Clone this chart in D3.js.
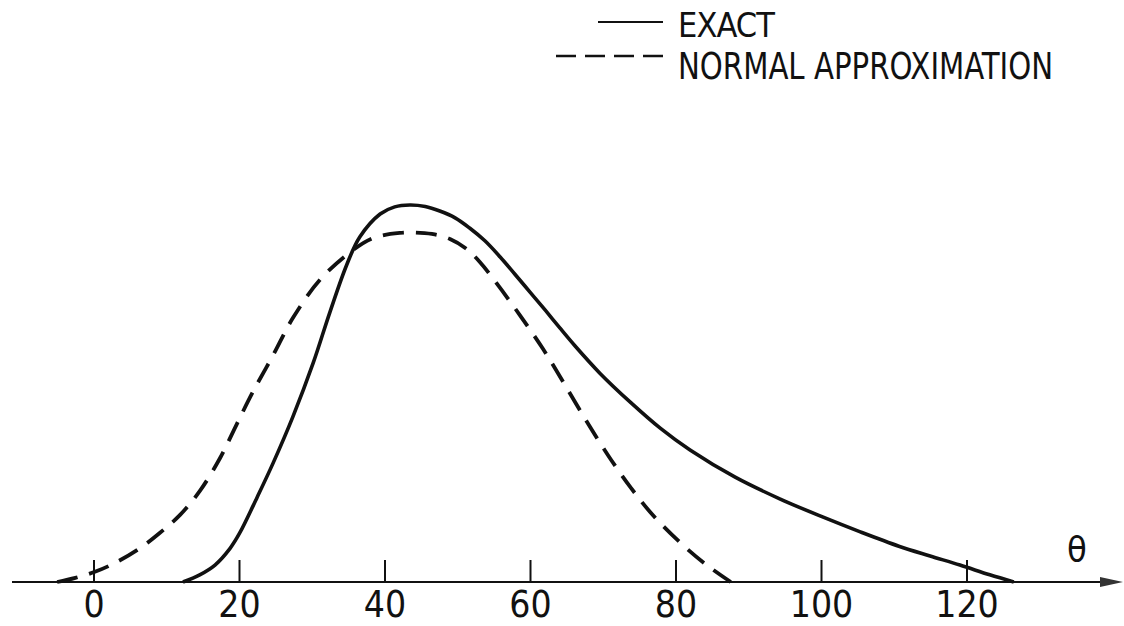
<!DOCTYPE html>
<html>
<head>
<meta charset="utf-8">
<script src="https://cdn.jsdelivr.net/npm/d3@7"></script>
<style>
  body { margin: 0; background: #fff; }
  text { font-family: "Liberation Sans Narrow", "DejaVu Sans Condensed", sans-serif; fill: #111; }
</style>
</head>
<body>
<svg id="app" width="1124" height="626"></svg>
<script>
// theta values and relative density
const exactTheta = [12.3, 14.6, 16.7, 18.8, 20.1, 22.5, 24.7, 27.4, 30.2, 32.5, 34.8, 36.6, 39.4, 41.4, 43.5,
  45.6, 47.6, 49.7, 51.7, 53.8, 55.9, 57.9, 60.0, 62.1, 64.1, 66.2, 69.6, 73.9, 77.9, 82.0, 88.2, 94.4,
  100.3, 105.4, 110.7, 115.0, 119.1, 123.2, 126.5];
const exactDens  = [0, 0.019, 0.045, 0.090, 0.130, 0.225, 0.316, 0.438, 0.581, 0.716, 0.841, 0.915, 0.976, 0.995, 1.0,
  0.996, 0.984, 0.966, 0.939, 0.905, 0.862, 0.817, 0.769, 0.721, 0.674, 0.626, 0.554, 0.475, 0.408, 0.350, 0.278, 0.220,
  0.172, 0.133, 0.095, 0.069, 0.045, 0.019, 0];

const normalTheta = [-5.0, -2.5, 0.2, 2.9, 6.4, 9.1, 11.9, 14.6, 17.4, 19.7, 21.9, 24.7, 27.4, 31.1, 35.3, 38.4, 42.1, 44.9,
  46.9, 49.0, 51.1, 53.1, 55.5, 58.6, 61.8, 64.4, 67.6, 70.7, 73.9, 77.0, 81.3, 84.5, 87.6];
const normalDens  = [0, 0.011, 0.027, 0.050, 0.090, 0.130, 0.178, 0.241, 0.329, 0.419, 0.504, 0.602, 0.700, 0.801, 0.875, 0.912, 0.926, 0.926,
  0.922, 0.910, 0.886, 0.849, 0.790, 0.708, 0.618, 0.536, 0.432, 0.337, 0.249, 0.175, 0.093, 0.042, 0];

const tickValues = [0, 20, 40, 60, 80, 100, 120];
const legendLabels = ["EXACT", "NORMAL APPROXIMATION"];

const svg = d3.select("#app");
const AXIS_Y = 582;

// x: theta, y: density (peak of exact = 1)
const xScale = d3.scaleLinear().domain([0, 120]).range([93.5, 966.5]);
const yScale = d3.scaleLinear().domain([0, 1]).range([AXIS_Y, 205]);

// axis ticks point up, labels below
const axis = d3.axisBottom(xScale)
  .tickValues(tickValues)
  .tickSize(-22)
  .tickPadding(9)
  .tickFormat(d3.format("d"));

const gx = svg.append("g")
  .attr("transform", `translate(0,${AXIS_Y})`)
  .call(axis);
gx.select(".domain").remove();
gx.selectAll(".tick line").attr("stroke", "#111").attr("stroke-width", 2);
gx.selectAll(".tick text")
  .attr("font-size", 37)
  .attr("fill", "#111")
  .style("font-family", '"Liberation Sans Narrow", "DejaVu Sans Condensed", sans-serif');

// axis line with arrow
svg.append("line")
  .attr("x1", 12).attr("x2", 1104)
  .attr("y1", AXIS_Y).attr("y2", AXIS_Y)
  .attr("stroke", "#111").attr("stroke-width", 2.2);
svg.append("path")
  .attr("d", `M1100,${AXIS_Y - 5} L1123,${AXIS_Y} L1100,${AXIS_Y + 5} Z`)
  .attr("fill", "#333");

svg.append("text")
  .attr("x", 1077).attr("y", 562)
  .attr("text-anchor", "middle")
  .attr("font-size", 36)
  .text("θ");

const line = d3.line()
  .x(d => xScale(d[0]))
  .y(d => yScale(d[1]))
  .curve(d3.curveCatmullRom.alpha(0.5));

// exact
svg.append("path")
  .datum(d3.zip(exactTheta, exactDens))
  .attr("d", line)
  .attr("fill", "none")
  .attr("stroke", "#111")
  .attr("stroke-width", 3.6);

// normal approximation
svg.append("path")
  .datum(d3.zip(normalTheta, normalDens))
  .attr("d", line)
  .attr("fill", "none")
  .attr("stroke", "#111")
  .attr("stroke-width", 3.8)
  .attr("stroke-dasharray", "21,12");

// legend
const lg = svg.append("g");
lg.append("line")
  .attr("x1", 598).attr("x2", 663).attr("y1", 22).attr("y2", 22)
  .attr("stroke", "#111").attr("stroke-width", 2.2);
lg.append("text")
  .attr("x", 678).attr("y", 37)
  .attr("font-size", 34)
  .attr("textLength", 97)
  .attr("lengthAdjust", "spacing")
  .text(legendLabels[0]);

lg.append("line")
  .attr("x1", 556).attr("x2", 663).attr("y1", 56).attr("y2", 56)
  .attr("stroke", "#111").attr("stroke-width", 2.4)
  .attr("stroke-dasharray", "20,9");
lg.append("text")
  .attr("x", 678).attr("y", 79)
  .attr("font-size", 37)
  .attr("textLength", 375)
  .attr("lengthAdjust", "spacingAndGlyphs")
  .text(legendLabels[1]);
</script>
</body>
</html>
